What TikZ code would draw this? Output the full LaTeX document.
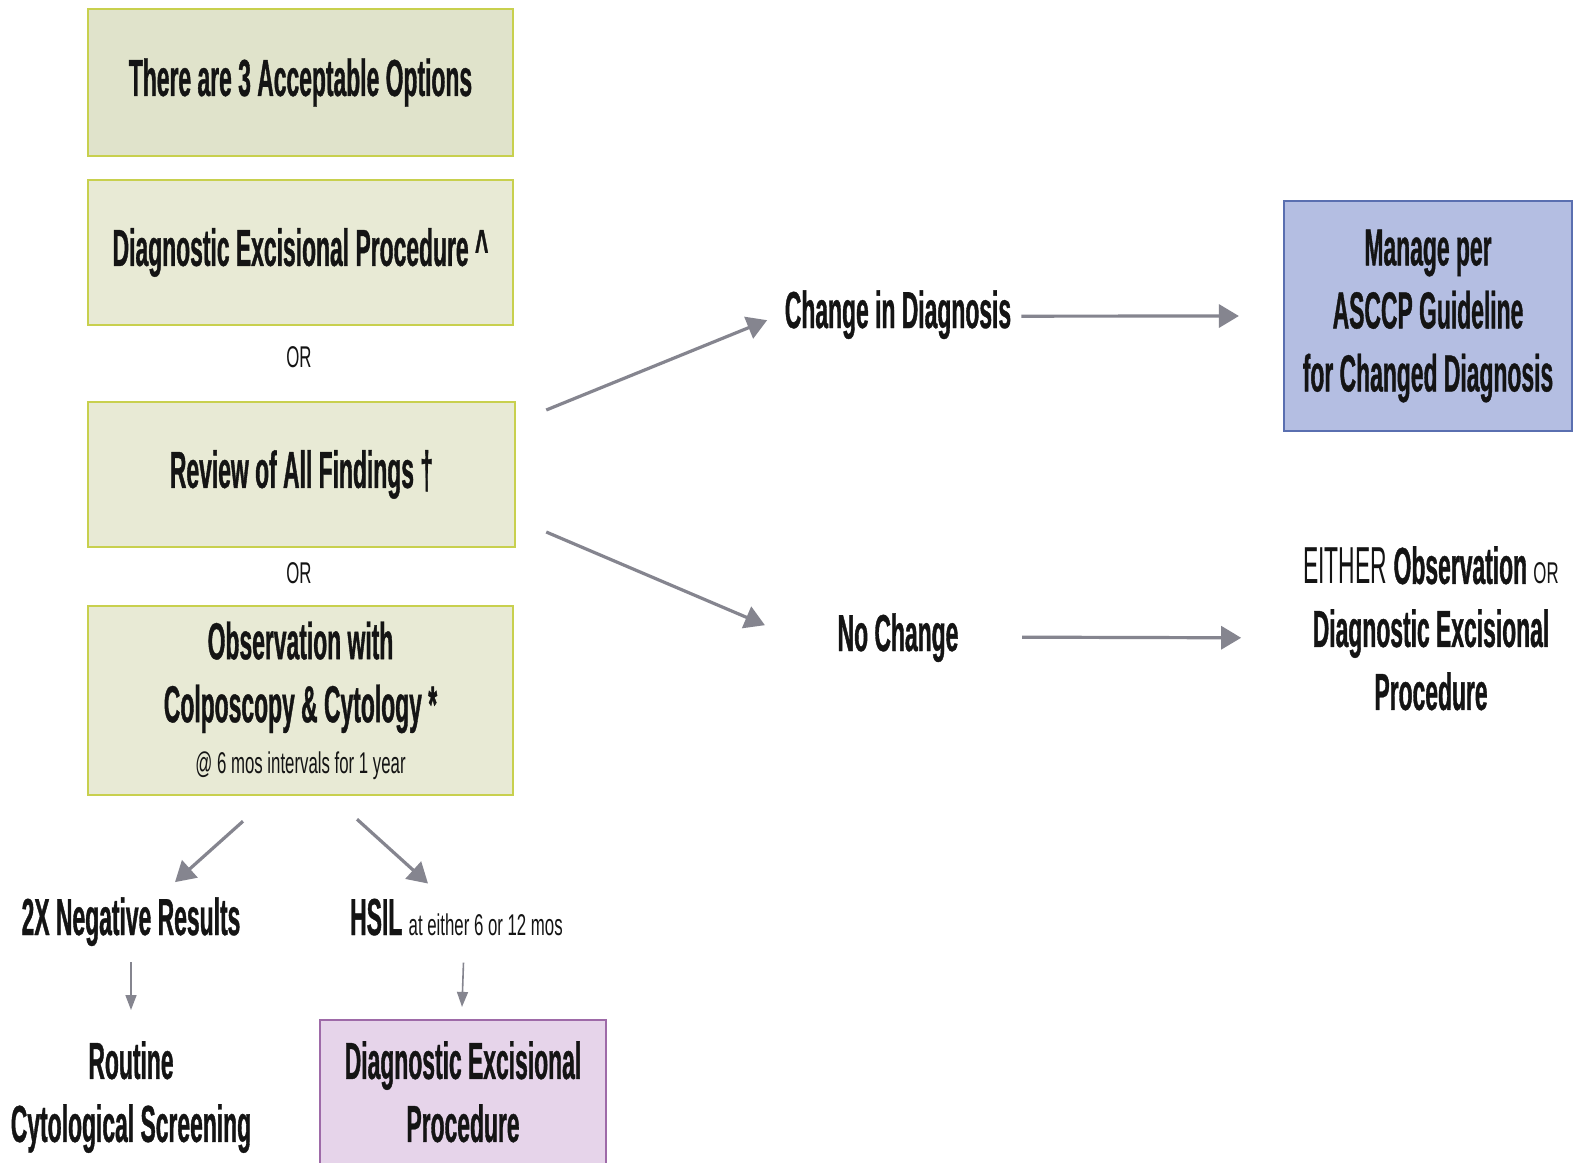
\documentclass[tikz,border=0pt]{standalone}
\usepackage{fontspec}
\setmainfont{Liberation Sans}
\newfontfamily\condfont[FakeStretch=0.44,BoldFeatures={FakeBold=0.7}]{Liberation Sans}
\newfontfamily\condwide[FakeStretch=0.56]{Liberation Sans}
\usetikzlibrary{arrows.meta,calc}
\definecolor{gfill}{HTML}{E8EAD5}
\definecolor{gfilltop}{HTML}{E0E3CB}
\definecolor{gline}{HTML}{C8D04E}
\definecolor{bfill}{HTML}{B4BEE2}
\definecolor{bline}{HTML}{5A6FB0}
\definecolor{pfill}{HTML}{E6D4EA}
\definecolor{pline}{HTML}{9E6AA8}
\definecolor{arrowgray}{HTML}{85858F}
\definecolor{ink}{HTML}{141414}
\begin{document}
\begin{tikzpicture}[x=1pt,y=-1pt,
  bigtxt/.style={font=\condfont\bfseries\fontsize{52}{63}\selectfont, text=ink},
  smallfont/.style={font=\condwide\fontsize{30}{36}\selectfont, text=ink},
  lbl/.style={bigtxt, inner sep=0pt, anchor=base},
  ortxt/.style={smallfont, inner sep=0pt, anchor=base},
  gbox/.style={draw=gline, fill=gfill, line width=2.5pt, inner sep=0pt,
    minimum width=425pt, align=center, bigtxt},
  bbox/.style={draw=bline, fill=bfill, line width=2.2pt, inner sep=0pt,
    minimum width=288pt, minimum height=230pt, align=center, bigtxt},
  pbox/.style={draw=pline, fill=pfill, line width=2.2pt, inner sep=0pt,
    minimum width=286pt, minimum height=155pt},
  arr/.style={draw=arrowgray, line width=3.2pt, -{Triangle[length=20pt,width=23pt]}},
  thinarr/.style={draw=arrowgray, line width=1.6pt, -{Triangle[length=15pt,width=11pt]}}
]
\clip (0,0) rectangle (1573,1162);
\fill[white] (0,0) rectangle (1573,1162);

% left column: the three options
\node[gbox, fill=gfilltop, minimum height=147pt] (opts) at (300.5,82.5)
  {There are 3 Acceptable Options};
\node[gbox, minimum height=145pt] (dep) at (300.5,252.5)
  {Diagnostic Excisional Procedure \textasciicircum};
\node[ortxt] (or1) at (299,367) {OR};
\node[gbox, minimum width=427pt, minimum height=145pt] (review) at (301.5,474.5)
  {Review of All Findings †};
\node[ortxt] (or2) at (299,583) {OR};
\node[gbox, minimum height=189pt] (obs) at (300.5,700.5)
  {Observation with\\Colposcopy \& Cytology *\\[-12pt]
   {\condwide\mdseries\fontsize{30}{36}\selectfont @ 6 mos intervals for 1 year}};

% review outcomes
\node[lbl] (change) at (898,328) {Change in Diagnosis};
\node[lbl] (nochange) at (898,651) {No Change};
\node[bbox] (manage) at (1428,316)
  {Manage per\\ASCCP Guideline\\for Changed Diagnosis};
\node[bigtxt, inner sep=0pt, align=center, anchor=north] (either) at (1431,546)
  {{\mdseries EITHER} Observation {\condwide\mdseries\fontsize{30}{36}\selectfont OR}\\
   Diagnostic Excisional\\Procedure};

% observation outcomes
\node[lbl] (neg) at (131,935) {2X Negative Results};
\node[lbl, anchor=base west] (hsil) at (350,935)
  {HSIL {\condwide\mdseries\fontsize{30}{36}\selectfont at either 6 or 12 mos}};
\node[bigtxt, inner sep=0pt, align=center, anchor=north] (routine) at (131,1041)
  {Routine\\Cytological Screening};
\node[pbox] (pinkbox) at (463,1097.5) {};
\node[bigtxt, inner sep=0pt, align=center, anchor=north] (pinktext) at (463,1041)
  {Diagnostic Excisional\\Procedure};

% connectors
\draw[arr] ($(review.east)+(30,-64.5)$) -- ($(change.west)+(-17.5,5.5)$);
\draw[arr] ($(review.east)+(30,57.5)$) -- ($(nochange.west)+(-72.5,-12.5)$);
\draw[arr] ($(change.east)+(10,1.5)$) -- ($(manage.west)+(-44,0)$);
\draw[arr] ($(nochange.east)+(63.5,-0.5)$) -- ($(either.west)+(-62,9.5)$);
\draw[arr] ($(obs.south)+(-57.5,25)$) -- ($(neg.north)+(44,-15)$);
\draw[arr] ($(obs.south)+(56.5,23)$) -- ($(hsil.north west)+(78,-15)$);
\draw[thinarr] ($(neg.south)+(0,16)$) -- ($(routine.north)+(0,-31)$);
\draw[thinarr] ($(hsil.south)+(7,27)$) -- ($(pinkbox.north)+(-1,-12)$);
\end{tikzpicture}
\end{document}
